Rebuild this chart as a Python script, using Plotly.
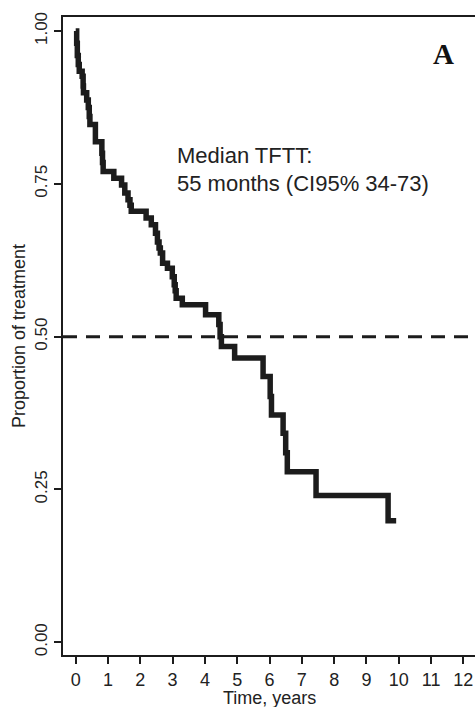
import plotly.graph_objects as go

# Kaplan-Meier style step curve (time in years, proportion on treatment)
times = [0, 0.03, 0.05, 0.08, 0.11, 0.20, 0.23, 0.24, 0.34, 0.39, 0.42, 0.44,
         0.61, 0.81, 0.83, 0.85, 1.18, 1.42, 1.52, 1.62, 1.68, 1.72, 2.18, 2.34,
         2.47, 2.53, 2.58, 2.62, 2.69, 2.84, 2.99, 3.05, 3.08, 3.11, 3.30, 4.02,
         4.43, 4.47, 4.51, 4.92, 5.80, 6.02, 6.06, 6.42, 6.50, 6.55, 7.44, 9.67, 9.92]
surv = [1.0, 0.98, 0.96, 0.945, 0.934, 0.926, 0.91, 0.899, 0.887, 0.875, 0.86, 0.847,
        0.819, 0.80, 0.785, 0.770, 0.759, 0.748, 0.735, 0.724, 0.715, 0.705, 0.694, 0.683,
        0.669, 0.655, 0.645, 0.637, 0.620, 0.612, 0.598, 0.585, 0.575, 0.563, 0.552, 0.536,
        0.52, 0.50, 0.484, 0.465, 0.435, 0.402, 0.372, 0.342, 0.31, 0.279, 0.240, 0.199, 0.199]

median_level = 0.5
x_ticks = list(range(0, 13))
y_ticks = [0.0, 0.25, 0.5, 0.75, 1.0]
y_ticktext = ["0.00", "0.25", "0.50", "0.75", "1.00"]

ink = "#1c1c1c"
font_family = "Liberation Sans, Arial, sans-serif"

fig = go.Figure()
fig.add_trace(go.Scatter(
    x=times, y=surv, mode="lines",
    line=dict(shape="hv", color=ink, width=5.5),
    showlegend=False, hoverinfo="skip",
))

fig.add_shape(type="line", xref="x domain", yref="y",
              x0=0, x1=1, y0=median_level, y1=median_level,
              line=dict(color=ink, width=3, dash="14px,9px"))

fig.add_annotation(x=3.07, y=0.796, xref="x", yref="y", text="Median TFTT:",
                   showarrow=False, xanchor="left", yanchor="middle",
                   font=dict(family=font_family, size=22, color="#222"))
fig.add_annotation(x=3.07, y=0.750, xref="x", yref="y", text="55 months (CI95% 34-73)",
                   showarrow=False, xanchor="left", yanchor="middle",
                   font=dict(family=font_family, size=22, color="#222"))
fig.add_annotation(x=11.37, y=0.962, xref="x", yref="y", text="<b>A</b>",
                   showarrow=False, xanchor="center", yanchor="middle",
                   font=dict(family="Liberation Serif, Times New Roman, serif", size=29, color="#111"))

# x-axis title placed just below the tick labels
fig.add_annotation(x=0.5, y=-0.049, xref="x domain", yref="paper", text="Time, years",
                   showarrow=False, xanchor="center", yanchor="top",
                   font=dict(family=font_family, size=18, color="#222"))

fig.update_layout(
    width=475, height=707,
    margin=dict(l=63, r=0, t=17, b=52),
    paper_bgcolor="white", plot_bgcolor="white",
    font=dict(family=font_family, size=17, color="#222"),
)
fig.update_xaxes(
    range=[-0.393, 12.36], tickvals=x_ticks,
    showline=True, linecolor=ink, linewidth=2, mirror=True,
    ticks="outside", ticklen=7, tickwidth=1.5, tickcolor=ink,
    showgrid=False, zeroline=False,
    tickfont=dict(size=18),
)
fig.update_yaxes(
    range=[-0.0208, 1.0229], tickvals=y_ticks, ticktext=y_ticktext,
    showline=True, linecolor=ink, linewidth=2, mirror=False,
    ticks="outside", ticklen=7, tickwidth=1.5, tickcolor=ink,
    showgrid=False, zeroline=False, tickangle=-90,
    tickfont=dict(size=17),
    title=dict(text="Proportion of treatment", font=dict(size=18), standoff=2),
)

fig.write_html("out.html",
               config={"displayModeBar": False},
               post_script="document.body.style.margin='0';document.body.style.overflow='hidden';")
